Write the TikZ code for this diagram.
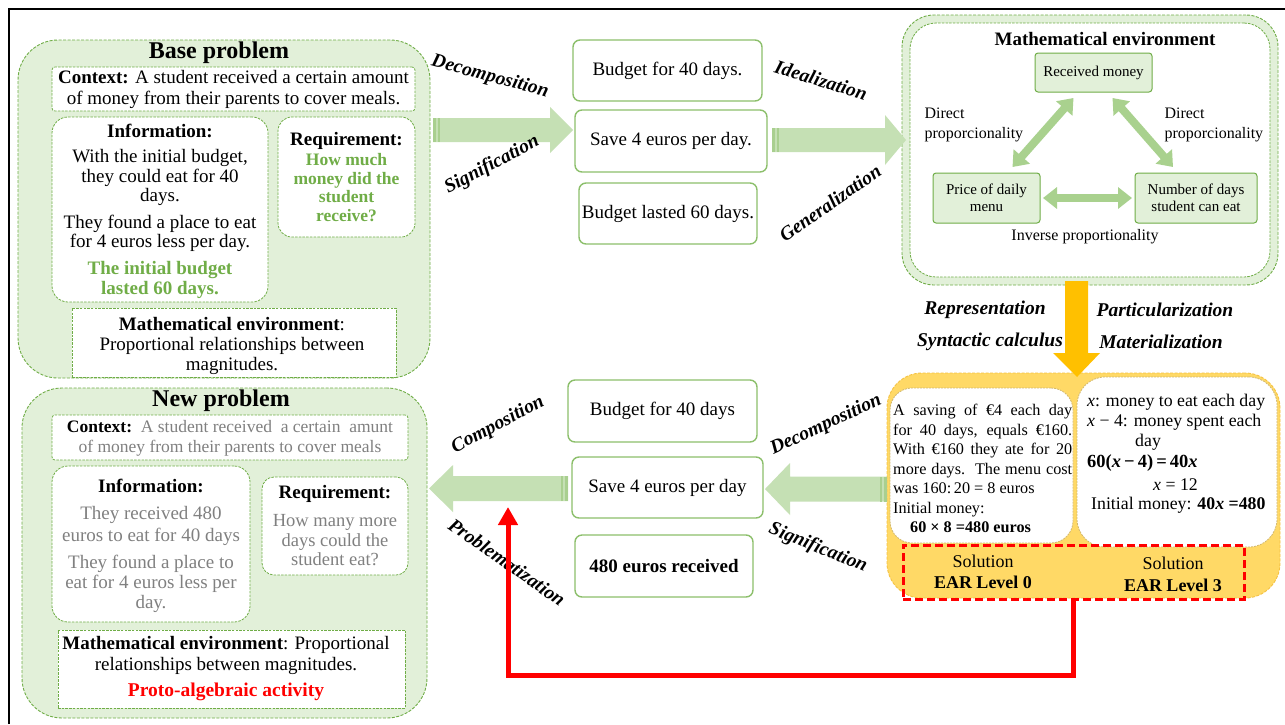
\documentclass[tikz,border=0pt]{standalone}
\usepackage{fontspec}
\setmainfont{Liberation Serif}
\usetikzlibrary{arrows.meta,calc}
\definecolor{lg}{HTML}{E2F0D9}
\definecolor{gb}{HTML}{70AD47}
\definecolor{gt}{HTML}{70AD47}
\definecolor{mb}{HTML}{8CBF6B}
\definecolor{ag}{HTML}{C5E0B4}
\definecolor{agd}{HTML}{A9CF8F}
\definecolor{tg}{HTML}{A9D18E}
\definecolor{og}{HTML}{FFC000}
\definecolor{of}{HTML}{FFD966}
\definecolor{obd}{HTML}{F5C242}
\definecolor{wbd}{HTML}{D2B86A}
\definecolor{gy}{HTML}{808080}
\definecolor{rd}{HTML}{FF0000}
\newcommand\fs[2]{\fontsize{#1}{#2}\selectfont}
% tail x, head base x, tip x, centre y, shaft half, head half, direction
\newcommand\blockarrow[7]{%
  \fill[ag] (#1,{#4-#5}) -- (#2,{#4-#5}) -- (#2,{#4-#6}) -- (#3,#4) -- (#2,{#4+#6}) -- (#2,{#4+#5}) -- (#1,{#4+#5}) -- cycle;
  \fill[agd] (#1,{#4-#5}) rectangle ({#1+#7*3},{#4+#5});
  \fill[agd] ({#1+#7*5},{#4-#5}) rectangle ({#1+#7*7},{#4+#5});
}
\begin{document}
\begin{tikzpicture}[x=1pt,y=-1pt,
  outerbox/.style={draw=gb, dash pattern=on 3pt off 1.5pt, fill=lg, line width=0.9pt, rounded corners=40pt, outer sep=0pt, inner sep=0pt},
  inbox/.style={draw=gb, dash pattern=on 2.5pt off 1.2pt, fill=white, line width=0.8pt, outer sep=0pt, inner sep=0pt},
  midbox/.style={draw=mb, fill=white, line width=1.4pt, rounded corners=7pt, font=\fs{19}{21}, inner sep=0pt, outer sep=0pt},
  envbox/.style={draw=gb, fill=lg, line width=1pt, rounded corners=3pt, font=\fs{15}{17}, align=center, inner sep=0pt, outer sep=0pt},
  whitebox/.style={draw=wbd, dash pattern=on 2pt off 1pt, fill=white, line width=0.8pt, inner sep=0pt, outer sep=0pt},
  lbl/.style={font=\fs{19.5}{22}\bfseries\itshape},
  body/.style={font=\fs{19}{20.5}, align=center},
  tri/.style={draw=tg, line width=8pt, {Triangle[width=21pt,length=14pt]}-{Triangle[width=21pt,length=14pt]}},
]
\useasboundingbox (0,0) rectangle (1285,724);
\fill[white] (0,0) rectangle (1285,724);
\draw[line width=1.3pt] (9,724) -- (9,9) -- (1285,9);

% ---------------- Base problem ----------------
\node[outerbox, minimum width=412pt, minimum height=338pt] (base) at (224,209) {};
\node[font=\fs{24}{26}\bfseries] (t1) at (219,53) {Base problem};
\node[inbox, rounded corners=3pt, minimum width=363pt, minimum height=44pt] (ctx1) at (233.5,89) {};
\node[body] at (233.5,89.5) {\textbf{Context:} A student received a certain amount\\of money from their parents to cover meals.};
\node[inbox, rounded corners=16pt, minimum width=216pt, minimum height=185pt] (info1) at (160,209.5) {};
\node[font=\fs{19}{21}\bfseries] at (160,131) {Information:};
\node[body, font=\fs{19}{19.5}] at (160,177.5) {With the initial budget,\\they could eat for 40\\days.};
\node[body, font=\fs{19}{19.5}] at (160,233.5) {They found a place to eat\\for 4 euros less per day.};
\node[body, font=\fs{19}{19.5}\bfseries, text=gt] at (160,280) {The initial budget\\lasted 60 days.};
\node[inbox, rounded corners=14pt, minimum width=137pt, minimum height=120pt] (req1) at (346.5,177) {};
\node[font=\fs{19}{21}\bfseries] at (346.5,141) {Requirement:};
\node[body, font=\fs{17.5}{18.5}\bfseries, text=gt] at (346.5,187.5) {How much\\money did the\\student\\receive?};
\node[inbox, minimum width=324pt, minimum height=69pt] (me1) at (234,342.5) {};
\node[body, font=\fs{19}{20}] at (232,345.5) {\textbf{Mathematical environment}:\\Proportional relationships between\\magnitudes.};

% ---------------- top middle ----------------
\blockarrow{433}{550}{573}{130}{12}{23}{1}
\node[midbox, minimum width=189pt, minimum height=61pt] (b1) at (667.5,70.5) {Budget for 40 days.};
\node[midbox, minimum width=192pt, minimum height=62pt] (b2) at (671,141) {Save 4 euros per day.};
\node[midbox, minimum width=178pt, minimum height=61pt] (b3) at (668,213.5) {Budget lasted 60 days.};
\node[lbl, rotate=-15] at (490,77) {Decomposition};
\node[lbl, rotate=28] at (492,165) {Signification};
\node[lbl, rotate=-17] at (821,80) {Idealization};
\node[lbl, rotate=35] at (830,203) {Generalization};

% ---------------- Mathematical environment ----------------
\node[outerbox, rounded corners=32pt, minimum width=376pt, minimum height=270pt] (meo) at (1090,150) {};
\node[inbox, rounded corners=26pt, minimum width=360pt, minimum height=254pt] (mei) at (1090,150) {};
\blockarrow{772}{885}{906}{140}{12}{25}{1}
\node[font=\fs{19}{21}\bfseries] at (1105,39) {Mathematical environment};
\node[envbox, minimum width=117pt, minimum height=39pt] (rm) at (1093.5,72.5) {Received money};
\node[envbox, minimum width=107pt, minimum height=50pt] (pd) at (986.5,198) {Price of daily\\menu};
\node[envbox, minimum width=122pt, minimum height=50pt] (nd) at (1196,198) {Number of days\\student can eat};
\draw[tri] ($(rm.south)+(-20,6)$) -- ($(pd.north)+(26,-6)$);
\draw[tri] ($(rm.south)+(19,6)$) -- ($(nd.north)+(-23,-6)$);
\draw[tri] ($(pd.east)+(3,0)$) -- ($(nd.west)+(-3,0)$);
\node[font=\fs{16}{20}, align=left, anchor=west] at (921,125) {Direct\\proporcionality};
\node[font=\fs{16}{20}, align=left, anchor=west] at (1161,125) {Direct\\proporcionality};
\node[font=\fs{16}{18}] at (1085,237) {Inverse\ proportionality};

% ---------------- orange solution box ----------------
\node[draw=obd, dash pattern=on 3pt off 1.5pt, fill=of, line width=0.9pt, rounded corners=35pt, minimum width=393pt, minimum height=225pt, inner sep=0pt, outer sep=0pt] (ob) at (1083.5,485.5) {};
\node[whitebox, rounded corners=22pt, minimum width=183pt, minimum height=155pt] (wl) at (981.5,465.5) {};
\node[whitebox, rounded corners=28pt, minimum width=200pt, minimum height=170pt] (wr) at (1177,462) {};
\node[font=\fs{16.2}{19.5}, align=left, anchor=north west, inner sep=0pt] (soltext) at (893,404) {%
\makebox[179pt][s]{A saving of €4 each day}\\
\makebox[179pt][s]{for 40 days, equals €160.}\\
\makebox[179pt][s]{With €160 they ate for 20}\\
\makebox[179pt][s]{more days.\ \ The menu cost}\\
was 160:\,20 = 8 euros\\
Initial money:\\
\hspace*{17pt}\textbf{60 × 8 =480 euros}};
\node[font=\fs{17.8}{20}, anchor=west, inner sep=0pt] at (1087,402) {\textit{x}: money to eat each day};
\node[font=\fs{17.8}{20}, anchor=west, inner sep=0pt] at (1087,422) {\textit{x} − 4: money spent each};
\node[font=\fs{17.8}{20}, anchor=west, inner sep=0pt] at (1135,442) {day};
\node[font=\fs{18.5}{20}\bfseries, anchor=west, inner sep=0pt] at (1087,463) {60(\textit{x}\,−\,4)\,=\,40\textit{x}};
\node[font=\fs{17.8}{20}, anchor=west, inner sep=0pt] at (1153,485) {\textit{x} = 12};
\node[font=\fs{17.8}{20}, anchor=west, inner sep=0pt] at (1091,505) {Initial money: \textbf{40\textit{x} =480}};
\node[draw=rd, dash pattern=on 8pt off 4pt, line width=3pt, minimum width=341pt, minimum height=54pt, inner sep=0pt, outer sep=0pt] (sol) at (1073.5,572) {};
\node[font=\fs{18}{21}, align=center] at (983,572) {Solution\\\textbf{EAR Level 0}};
\node[font=\fs{18}{22}, align=center] at (1173,574.5) {Solution\\\textbf{EAR Level 3}};
\fill[og] (1065,281) -- (1088,281) -- (1088,353) -- (1100,353) -- (1077,377) -- (1053,353) -- (1065,353) -- cycle;
\node[lbl] at (985,310) {Representation};
\node[lbl] at (990,342) {Syntactic calculus};
\node[lbl] at (1165,310) {Particularization};
\node[lbl] at (1161,342) {Materialization};

% ---------------- bottom middle ----------------
\blockarrow{887}{790}{765}{489}{12.5}{26}{-1}
\blockarrow{568}{453}{429}{488.5}{12.5}{23.5}{-1}
\node[midbox, minimum width=189pt, minimum height=62pt] (c1) at (662.5,411) {Budget for 40 days};
\node[midbox, minimum width=191pt, minimum height=61pt] (c2) at (667.5,487.5) {Save 4 euros per day};
\node[midbox, minimum width=178pt, minimum height=62pt, font=\fs{19}{21}\bfseries] (c3) at (664,566) {480 euros received};
\node[lbl, rotate=28] at (498,425) {Composition};
\node[lbl, rotate=25] at (826,425) {Decomposition};
\node[lbl, rotate=-22] at (818,548) {Signification};
\node[lbl, rotate=-35] at (507,562) {Problematization};
\coordinate (ptip) at (508,507);
\draw[rd, line width=5pt, -{Triangle[width=19pt,length=18pt]}] (sol.south) -- ++(0,76) -| (ptip);

% ---------------- New problem ----------------
\node[outerbox, minimum width=405pt, minimum height=330pt] (np) at (224.5,553) {};
\node[font=\fs{24}{26}\bfseries] (t2) at (221,401) {New problem};
\node[inbox, rounded corners=3pt, minimum width=356pt, minimum height=45pt] (ctx2) at (230,437.5) {};
\node[font=\fs{17.5}{19.5}, align=center] at (230,438.5) {\textbf{Context:}\ \ \textcolor{gy}{A student received\ \ a certain\ \ amunt}\\\textcolor{gy}{of money from their parents to cover meals}};
\node[inbox, rounded corners=16pt, minimum width=198pt, minimum height=156pt] (info2) at (151,544) {};
\node[font=\fs{19}{21}\bfseries] at (151,486) {Information:};
\node[body, font=\fs{19}{21.5}, text=gy] at (151,526) {They received 480\\euros to eat for 40 days};
\node[body, font=\fs{19}{20}, text=gy] at (151,583.5) {They found a place to\\eat for 4 euros less per\\day.};
\node[inbox, rounded corners=12pt, minimum width=146pt, minimum height=98pt] (req2) at (335,526) {};
\node[font=\fs{19}{21}\bfseries] at (335,494) {Requirement:};
\node[body, font=\fs{18.5}{19.5}, text=gy] at (335,540.5) {How many more\\days could the\\student eat?};
\node[inbox, minimum width=347pt, minimum height=78pt] (me2) at (231.5,669) {};
\node[body, font=\fs{19}{21}] at (226,655) {\textbf{Mathematical environment}: Proportional\\relationships between magnitudes.};
\node[font=\fs{19.5}{21}\bfseries, text=rd] at (226,692) {Proto-algebraic activity};
\end{tikzpicture}
\end{document}
